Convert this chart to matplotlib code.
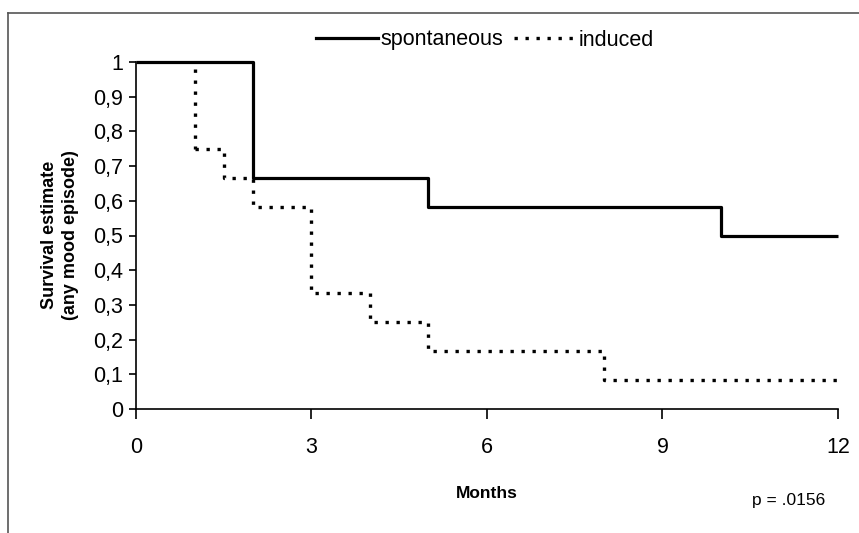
import matplotlib
matplotlib.use("Agg")
import matplotlib.pyplot as plt
from matplotlib.lines import Line2D

plt.rcParams['font.family'] = ['Liberation Sans', 'DejaVu Sans']

# Kaplan-Meier step data (time in months, survival after the step)
spont_t = [0, 2, 5, 10, 12]
spont_s = [1.0, 0.667, 0.583, 0.5, 0.5]
induced_t = [0, 1, 1.5, 2, 3, 4, 5, 8, 12]
induced_s = [1.0, 0.75, 0.667, 0.583, 0.333, 0.25, 0.167, 0.083, 0.083]
xticks = [0, 3, 6, 9, 12]
yticks = [0, 0.1, 0.2, 0.3, 0.4, 0.5, 0.6, 0.7, 0.8, 0.9, 1]
ytick_labels = ["0", "0,1", "0,2", "0,3", "0,4", "0,5", "0,6", "0,7", "0,8", "0,9", "1"]

fig = plt.figure(figsize=(8.59, 5.33), dpi=100)
ax = fig.add_axes([136/859, 1-409/533, (838-136)/859, (409-62)/533])

dot_style = (0, (1.0, 2.3))
ax.step(spont_t, spont_s, where='post', color='black', lw=2.3, clip_on=False,
        solid_capstyle='butt', zorder=3)
ax.step(induced_t[1:], induced_s[1:], where='post', color='black', lw=2.4,
        linestyle=dot_style, clip_on=False, dash_capstyle='butt', zorder=2)
# induced vertical drop at first event
ax.plot([induced_t[1], induced_t[1]], [0.98, induced_s[1]], color='black', lw=2.4,
        linestyle=dot_style, dash_capstyle='butt')

ax.set_xlim(0, 12)
ax.set_ylim(0, 1)
ax.set_xticks(xticks)
ax.set_xticklabels([str(x) for x in xticks])
ax.set_yticks(yticks)
ax.set_yticklabels(ytick_labels)
for s in ['top', 'right']:
    ax.spines[s].set_visible(False)
for s in ['left', 'bottom']:
    ax.spines[s].set_linewidth(1.2)
ax.tick_params(axis='y', direction='out', length=5, width=1.2, labelsize=15.5, pad=4)
ax.tick_params(axis='x', direction='out', length=7, width=1.2, labelsize=15.5, pad=13)

ax.set_xlabel("Months", fontsize=12.5, fontweight='bold', labelpad=20)
fig.text(60/859, 1-235/533, "Survival estimate\n(any mood episode)", rotation=90,
         ha='center', va='center', fontsize=13, fontweight='bold', linespacing=1.25)
fig.text(789/859, 1-500/533, "p = .0156", ha='center', va='center', fontsize=12.5)

handles = [Line2D([], [], color='black', lw=2.3),
           Line2D([], [], color='black', lw=2.4, linestyle=dot_style)]
fig.legend(handles, ["spontaneous", "induced"], loc='center', bbox_to_anchor=(485/859, 1-40/533),
           ncol=2, frameon=False, fontsize=15.5, handlelength=2.9, handletextpad=0.1,
           columnspacing=0.5)

# outer scan frame
fig.add_artist(Line2D([8/859, 8/859], [0, 1-13/533], color='#555555', lw=1.2))
fig.add_artist(Line2D([8/859, 1], [1-13/533, 1-13/533], color='#555555', lw=1.2))

fig.savefig("out.png", dpi=100)
